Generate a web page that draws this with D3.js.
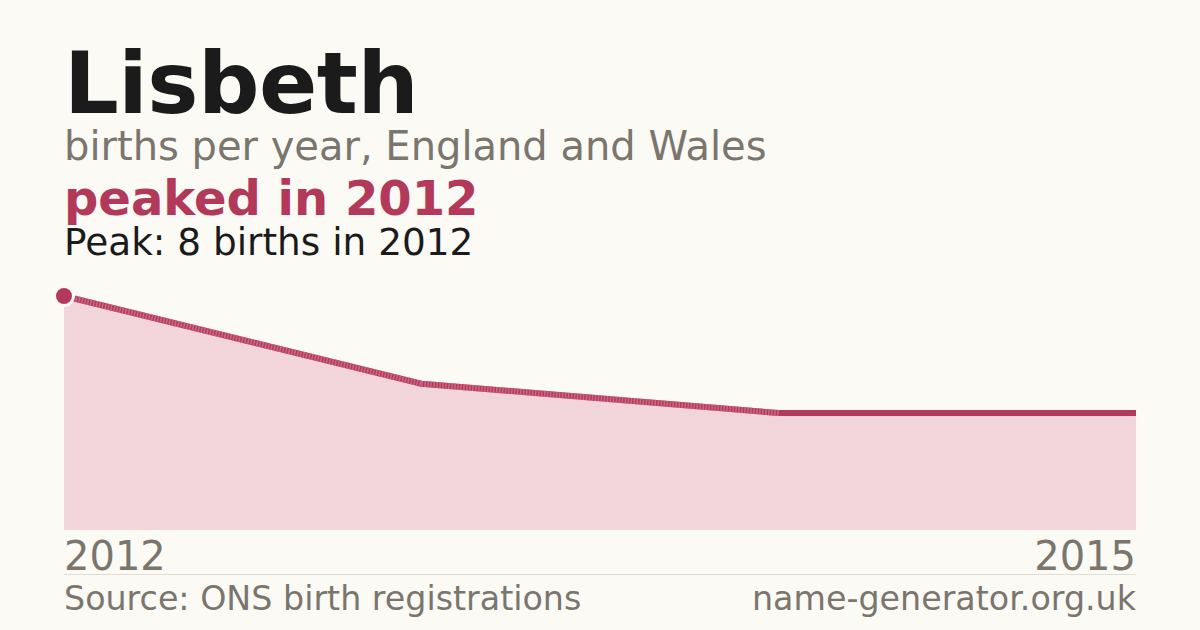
<!DOCTYPE html>
<html>
<head>
<meta charset="utf-8">
<script src="https://cdn.jsdelivr.net/npm/d3@7"></script>
<style>
  html, body { margin: 0; padding: 0; background: #fbfaf5; }
  svg { display: block; font-family: "DejaVu Sans", sans-serif; }
</style>
</head>
<body>
<div id="chart"></div>
<script>
// data
var years = [2012, 2013, 2014, 2015];
var births = [8, 5, 4, 4];
var tickYears = [2012, 2015];

const W = 1200, H = 630;
const margin = { left: 64, right: 64 },
  plotTop = 296, plotBottom = 530;

const accent = "#b3395a", grey = "#7a766e";

var data = years.map((y, i) => ({ year: y, value: births[i] }));

var svg = d3.select("#chart")
  .append("svg")
  .attr("width", W)
  .attr("height", H);

svg.append("rect").attr("width", W).attr("height", H).attr("fill", "#fbfaf5");

// headings
svg.append("text")
  .attr("x", 64).attr("y", 113)
  .attr("font-size", 86).attr("font-weight", "bold")
  .attr("letter-spacing", -0.5)
  .attr("fill", "#1b1b1b")
  .text("Lisbeth");

svg.append("text")
  .attr("x", 64).attr("y", 160)
  .attr("font-size", 40).attr("fill", grey)
  .text("births per year, England and Wales");

svg.append("text")
  .attr("x", 64).attr("y", 215)
  .attr("font-size", 48).attr("font-weight", "bold")
  .attr("fill", accent)
  .text("peaked in 2012");

svg.append("text")
  .attr("x", 64).attr("y", 255)
  .attr("font-size", 37.4).attr("fill", "#1b1b1b")
  .text("Peak: 8 births in 2012");

// scales
const x = d3.scaleLinear()
  .domain(d3.extent(years))
  .range([margin.left, W - margin.right]);

const y = d3.scaleLinear()
  .domain([0, d3.max(births)])
  .range([plotBottom, plotTop]);

// area
svg.append("path")
  .datum(data)
  .attr("fill", "#f2d5da")
  .attr("d", d3.area()
    .x(d => x(d.year))
    .y0(y(0))
    .y1(d => y(d.value)));

// line
svg.append("path")
  .datum(data)
  .attr("fill", "none")
  .attr("stroke", accent)
  .attr("stroke-width", 6)
  .attr("d", d3.line()
    .x(d => x(d.year))
    .y(d => y(d.value)));

// sloped parts look striped in the original
var sloped = data.slice(0, -1).map((d, i) => [d, data[i + 1]])
  .filter(p => p[0].value !== p[1].value);
svg.selectAll(".stripe")
  .data(sloped)
  .join("path")
  .attr("class", "stripe")
  .attr("fill", "none")
  .attr("stroke", "#cd6883")
  .attr("stroke-width", 6)
  .attr("stroke-dasharray", "1.5,1.5")
  .attr("d", d3.line()
    .x(d => x(d.year))
    .y(d => y(d.value)));

// peak marker
var peak = data[d3.maxIndex(data, d => d.value)];
svg.append("circle")
  .attr("cx", x(peak.year))
  .attr("cy", y(peak.value))
  .attr("r", 9.5)
  .attr("fill", accent)
  .attr("stroke", "#fbfaf5")
  .attr("stroke-width", 3);

// x labels
svg.selectAll(".tick-label")
  .data(tickYears)
  .join("text")
  .attr("class", "tick-label")
  .attr("x", d => x(d))
  .attr("y", 570)
  .attr("text-anchor", (d, i) => i === 0 ? "start" : "end")
  .attr("font-size", 40)
  .attr("fill", grey)
  .text(d => d);

// rule
svg.append("line")
  .attr("x1", 64).attr("x2", W - 64)
  .attr("y1", 574.5).attr("y2", 574.5)
  .attr("stroke", "#e2ddd4")
  .attr("stroke-width", 1);

// footer
svg.append("text")
  .attr("x", 64).attr("y", 610)
  .attr("font-size", 33.3).attr("fill", grey)
  .text("Source: ONS birth registrations");

svg.append("text")
  .attr("x", W - 64).attr("y", 610)
  .attr("text-anchor", "end")
  .attr("font-size", 33.3).attr("fill", grey)
  .text("name-generator.org.uk");
</script>
</body>
</html>
